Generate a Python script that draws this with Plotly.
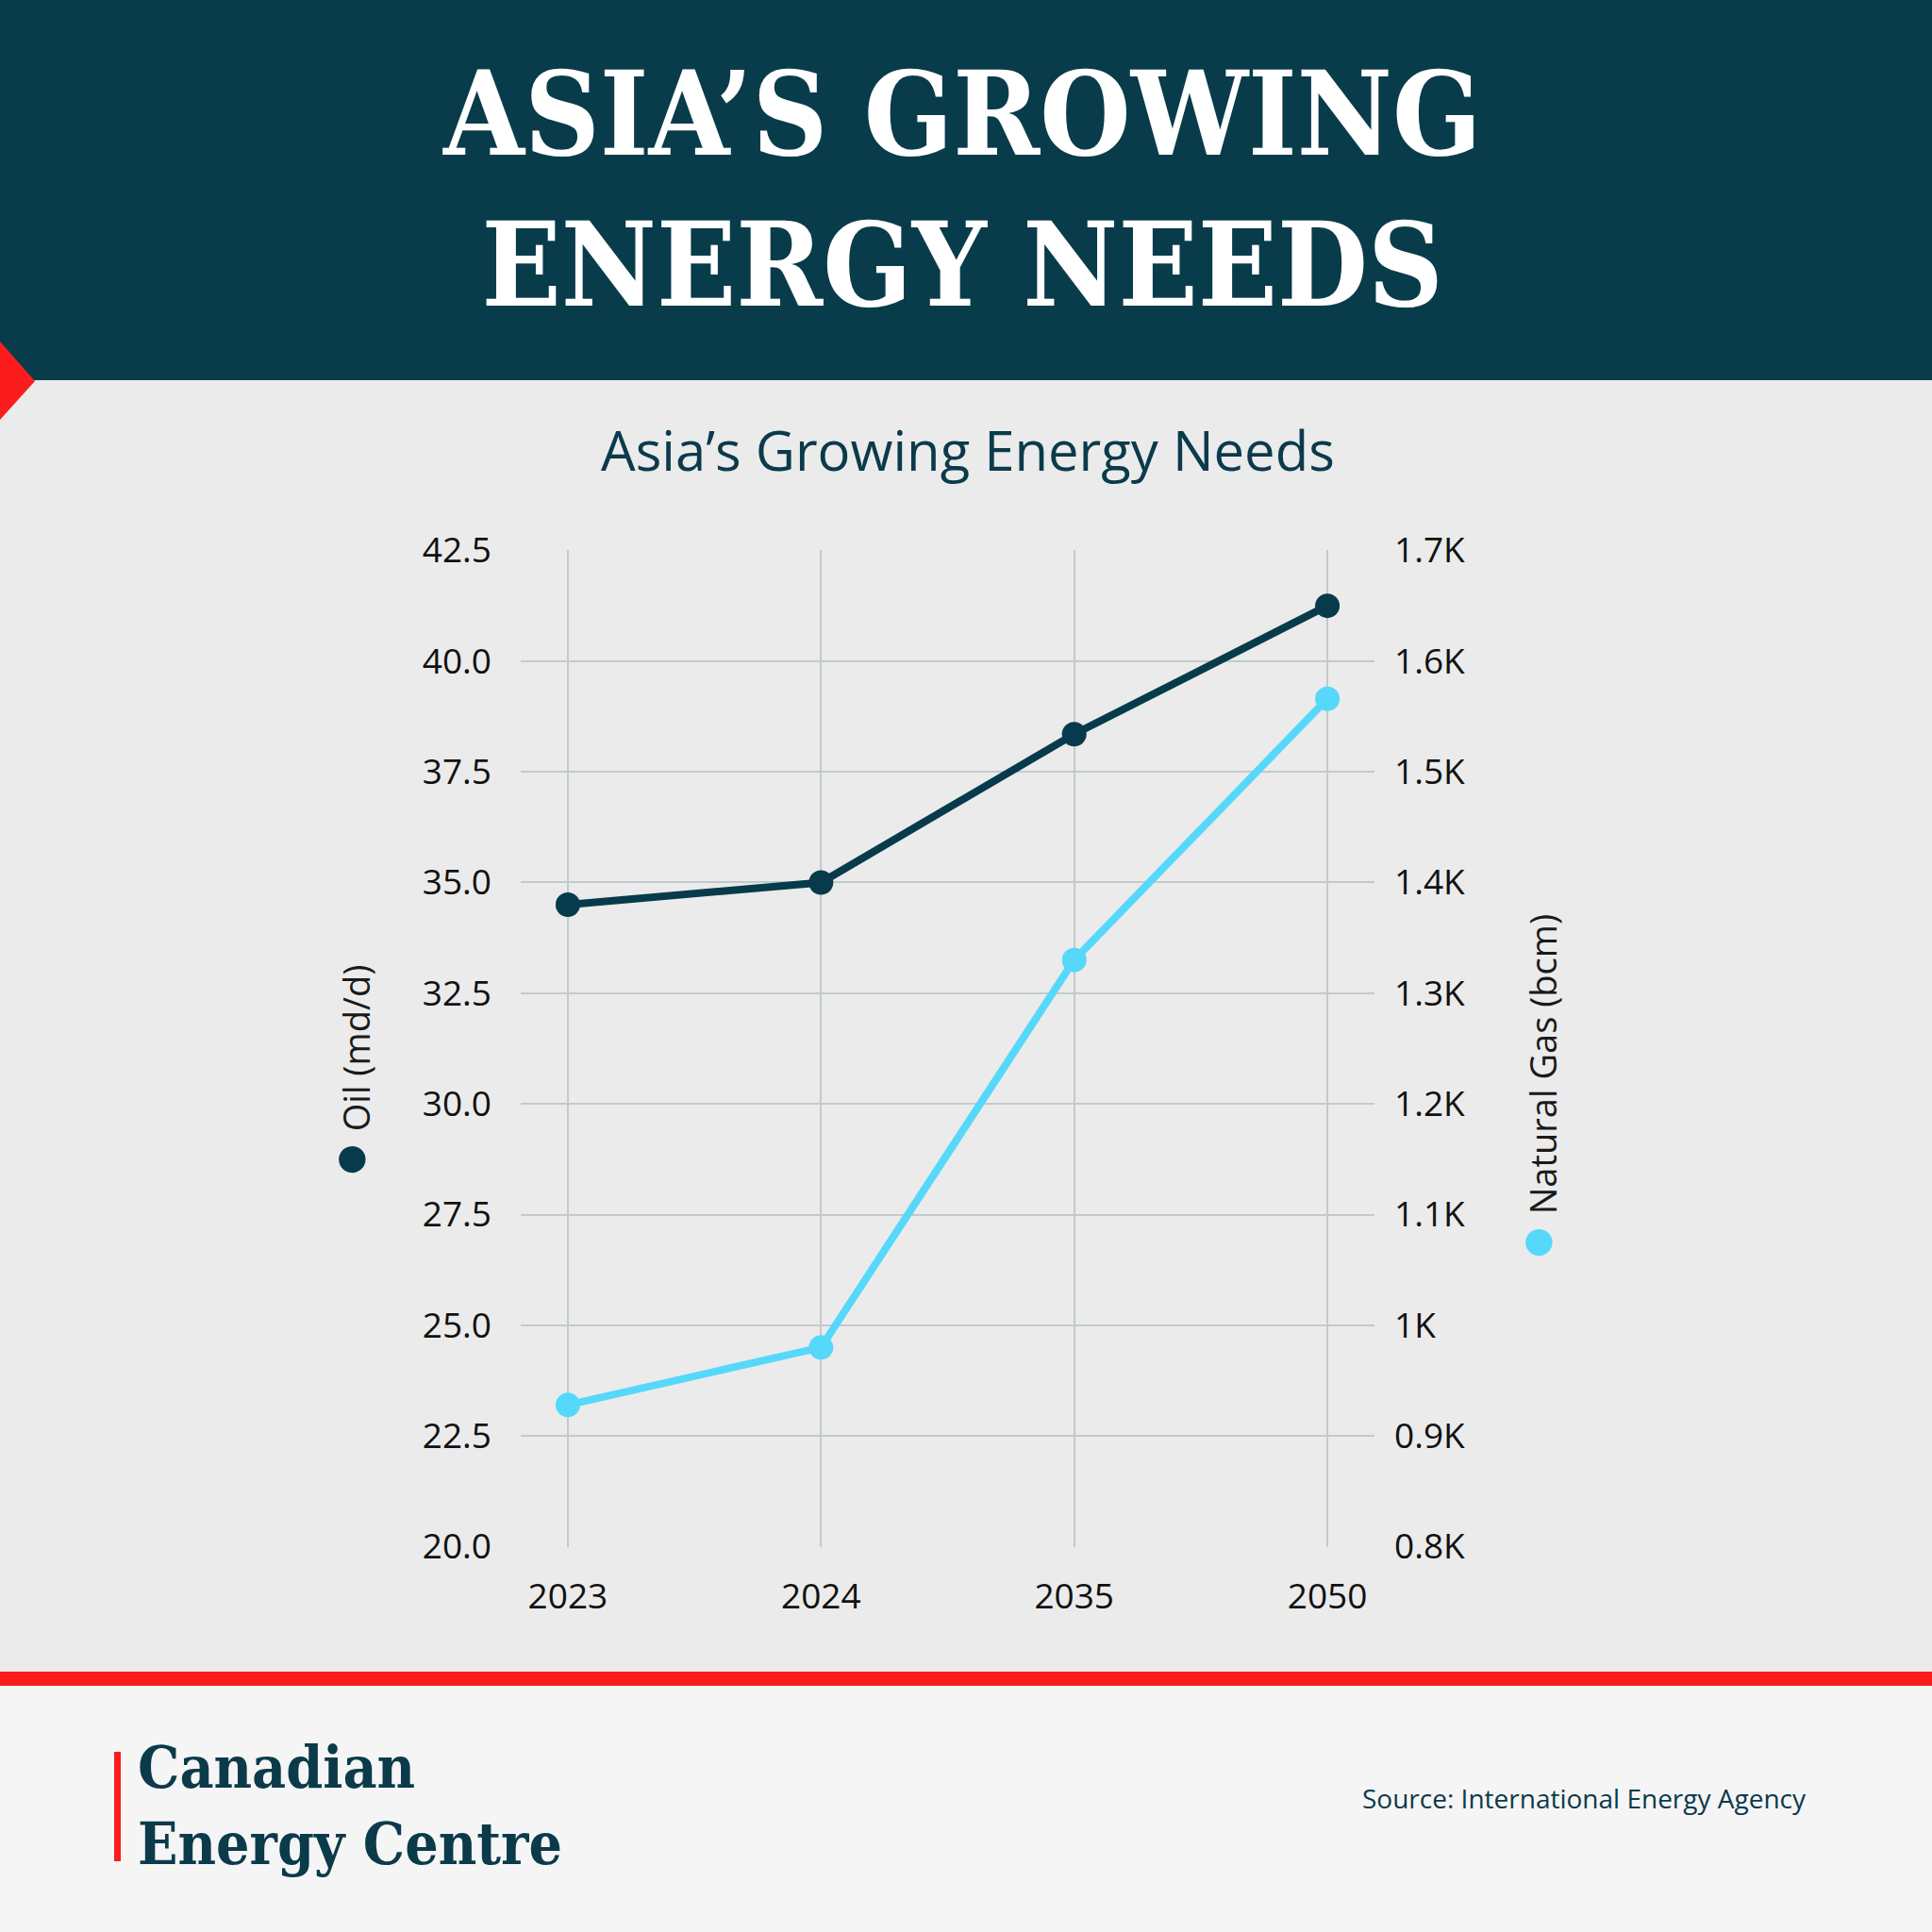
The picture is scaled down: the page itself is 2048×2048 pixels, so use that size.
import plotly.graph_objects as go

# data
years = ["2023", "2024", "2035", "2050"]
oil_mbd = [34.5, 35.0, 38.35, 41.25]
gas_bcm = [928, 980, 1330, 1566]

oil_ticks = [20.0, 22.5, 25.0, 27.5, 30.0, 32.5, 35.0, 37.5, 40.0, 42.5]
gas_ticks = [800, 900, 1000, 1100, 1200, 1300, 1400, 1500, 1600, 1700]
gas_tick_labels = ["0.8K", "0.9K", "1K", "1.1K", "1.2K", "1.3K", "1.4K", "1.5K", "1.6K", "1.7K"]

W = H = 2048
NAVY = "#093c4b"
OIL = "#073b4c"
GAS = "#56d8fb"
RED = "#fb1d1d"
GRID = "#c2cacc"
SANS = "Open Sans"
SERIF = "DejaVu Serif Condensed, DejaVu Serif, Liberation Serif"


def px_x(x):
    return x / W


def px_y(y):
    return 1 - y / H


fig = go.Figure()
fig.add_trace(go.Scatter(
    x=years, y=oil_mbd, name="Oil (md/d)", mode="lines+markers",
    line=dict(color=OIL, width=8), marker=dict(color=OIL, size=26),
    yaxis="y",
))
fig.add_trace(go.Scatter(
    x=years, y=gas_bcm, name="Natural Gas (bcm)", mode="lines+markers",
    line=dict(color=GAS, width=8), marker=dict(color=GAS, size=26),
    yaxis="y2",
))

tick_font = dict(family=SANS, size=37, color="#111111")

fig.update_layout(
    template="none",
    width=W, height=H,
    margin=dict(l=0, r=0, t=0, b=0, pad=0, autoexpand=False),
    paper_bgcolor="#ebebeb",
    plot_bgcolor="rgba(0,0,0,0)",
    showlegend=False,
    xaxis=dict(
        type="category", domain=[px_x(552), px_x(1457)], automargin=False,
        range=[-0.186, 3.186], showgrid=True, gridcolor=GRID, gridwidth=2,
        zeroline=False, showline=False, ticks="", tickfont=tick_font,
        ticklabelstandoff=27,
    ),
    yaxis=dict(
        domain=[px_y(1640), px_y(583)], range=[19.99, 42.51], automargin=False,
        tickvals=oil_ticks, tickformat=".1f", showgrid=True, gridcolor=GRID,
        gridwidth=2, zeroline=False, showline=False, ticks="",
        tickfont=tick_font, ticklabelstandoff=30,
    ),
    yaxis2=dict(
        overlaying="y", side="right", range=[799.6, 1700.4], automargin=False,
        tickvals=gas_ticks, ticktext=gas_tick_labels, showgrid=False,
        zeroline=False, showline=False, ticks="", tickfont=tick_font,
        ticklabelstandoff=20,
    ),
)

shapes = [
    # header band
    dict(type="rect", xref="paper", yref="paper", x0=0, x1=1,
         y0=px_y(403), y1=1, fillcolor=NAVY, line_width=0, layer="below"),
    # red notch
    dict(type="path", xref="paper", yref="paper",
         path=f"M 0 {px_y(362)} L {px_x(37)} {px_y(404)} L 0 {px_y(445)} Z",
         fillcolor=RED, line_width=0, layer="below"),
    # footer
    dict(type="rect", xref="paper", yref="paper", x0=0, x1=1,
         y0=0, y1=px_y(1786), fillcolor="#f5f5f5", line_width=0, layer="below"),
    dict(type="rect", xref="paper", yref="paper", x0=0, x1=1,
         y0=px_y(1787), y1=px_y(1772), fillcolor=RED, line_width=0, layer="below"),
    # logo bar
    dict(type="rect", xref="paper", yref="paper", x0=px_x(121), x1=px_x(128),
         y0=px_y(1973), y1=px_y(1857), fillcolor=RED, line_width=0),
]
fig.update_layout(shapes=shapes)

dot = "<span style='color:{};font-size:66px'>●</span>"
notes = [
    dict(text="<b>ASIA’S GROWING<br>ENERGY NEEDS</b>", x=px_x(1019), y=px_y(201),
         font=dict(family=SERIF, size=123, color="white")),
    dict(text="Asia’s Growing Energy Needs", x=px_x(1026), y=px_y(476),
         font=dict(family=SANS, size=58, color="#0b3a4b")),
    dict(text=dot.format(OIL) + " Oil (md/d)",
         x=px_x(366), y=px_y(1136), textangle=-90,
         font=dict(family=SANS, size=38, color="#1a1a1a")),
    dict(text=dot.format(GAS) + " Natural Gas (bcm)",
         x=px_x(1624), y=px_y(1153), textangle=-90,
         font=dict(family=SANS, size=38, color="#1a1a1a")),
    dict(text="<b>Canadian<br>Energy Centre</b>", x=px_x(144), y=px_y(1914),
         xanchor="left", align="left",
         font=dict(family=SERIF, size=62, color="#0b3a4b")),
    dict(text="Source: International Energy Agency", x=px_x(1917), y=px_y(1906),
         xanchor="right", font=dict(family=SANS, size=28, color="#0b3a4b")),
]
for n in notes:
    n.setdefault("xanchor", "center")
    fig.add_annotation(xref="paper", yref="paper", showarrow=False,
                       yanchor="middle", **n)

fig.write_html("out.html", config={"displayModeBar": False},
               post_script="document.body.style.margin='0';")
